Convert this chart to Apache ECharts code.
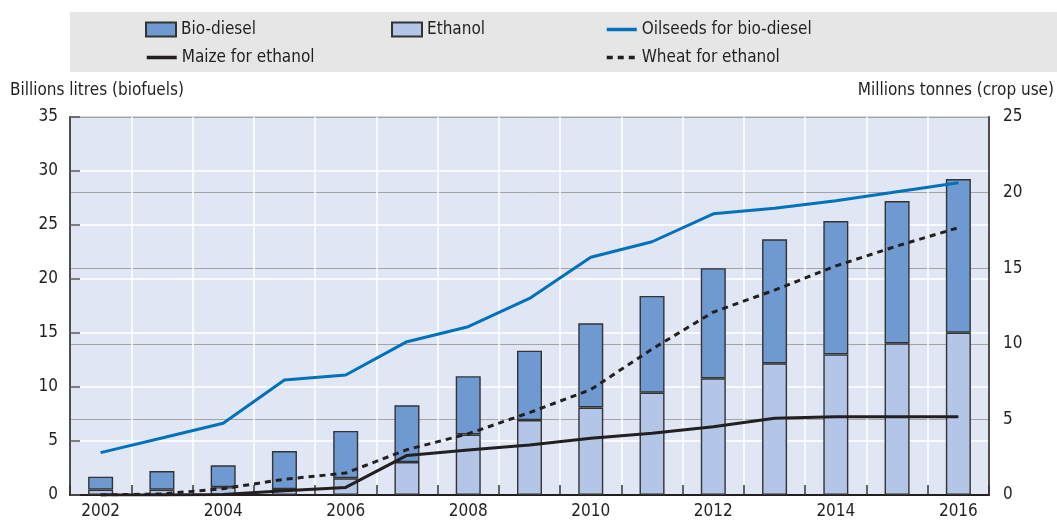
<!DOCTYPE html>
<html>
<head>
<meta charset="utf-8">
<script src="https://cdn.jsdelivr.net/npm/echarts@6/dist/echarts.min.js"></script>
<style>
  html, body { margin: 0; padding: 0; background: #fff; }
  #chart { width: 1057px; height: 521px; }
</style>
</head>
<body>
<div id="chart"></div>
<script>
// categories
var years = ['2002','2003','2004','2005','2006','2007','2008','2009','2010','2011','2012','2013','2014','2015','2016'];
// billions litres (left axis)
var ethanol   = [0.5, 0.5, 0.72, 0.55, 1.55, 3.05, 5.6, 6.94, 8.1, 9.47, 10.8, 12.19, 13.02, 14.04, 15.03];
var biodiesel = [1.2, 1.72, 2.03, 3.52, 4.38, 5.25, 5.4, 6.42, 7.8, 8.96, 10.2, 11.48, 12.35, 13.18, 14.23];
// millions tonnes (right axis)
var oilseeds = [2.8, 3.77, 4.74, 7.6, 7.94, 10.14, 11.13, 13.0, 15.72, 16.75, 18.6, 18.96, 19.46, 20.06, 20.65];
var maize    = [0, 0, 0.03, 0.28, 0.5, 2.62, 2.98, 3.31, 3.75, 4.08, 4.52, 5.07, 5.18, 5.18, 5.18];
var wheat    = [0, 0.07, 0.42, 1.04, 1.45, 3.0, 4.05, 5.45, 6.97, 9.65, 12.1, 13.55, 15.15, 16.47, 17.68];

var FONT = '"Liberation Sans Narrow", "DejaVu Sans Condensed", "Liberation Sans", sans-serif';
var textStyle = { fontFamily: FONT, fontSize: 17, color: '#231f20' };

var chart = echarts.init(document.getElementById('chart'));

function legendItem(name, left, top, icon) {
  var item = { name: name };
  if (icon) item.icon = icon;
  var lg = {
    data: [item],
    left: left,
    top: top,
    itemWidth: 30,
    itemHeight: 14,
    itemGap: 0,
    selectedMode: false,
    textStyle: textStyle
  };
  if (!icon) {
    // line series: show the stroke only, hide the circle symbol
    lg.itemStyle = { opacity: 0 };
    lg.lineStyle = { width: 3.5 };
  }
  return lg;
}

chart.setOption({
  animation: false,
  graphic: [{
    type: 'rect',
    left: 70, top: 12,
    shape: { width: 987, height: 60 },
    style: { fill: '#e6e6e6' },
    z: -10
  }],
  legend: [
    legendItem('Bio-diesel', 140, 16, 'rect'),
    legendItem('Ethanol', 386, 16, 'rect'),
    legendItem('Oilseeds for bio-diesel', 600, 16),
    legendItem('Maize for ethanol', 140, 44),
    legendItem('Wheat for ethanol', 600, 44)
  ],
  grid: {
    left: 70, right: 66, top: 117, bottom: 26,
    show: true,
    backgroundColor: '#e0e6f4',
    borderColor: '#333',
    borderWidth: 1.5
  },
  xAxis: {
    type: 'category',
    data: years,
    boundaryGap: true,
    axisLine: { lineStyle: { color: '#231f20', width: 2 } },
    axisTick: { show: true, inside: true, length: 10, interval: 0, lineStyle: { color: '#333', width: 1.5 } },
    splitLine: { show: true, interval: 0, lineStyle: { color: '#ffffff', width: 1.5 } },
    axisLabel: {
      interval: function (i) { return i % 2 === 0; },
      fontFamily: FONT, fontSize: 17, color: '#231f20', margin: 8
    }
  },
  yAxis: [{
    type: 'value',
    min: 0, max: 35, interval: 5,
    name: 'Billions litres (biofuels)',
    nameLocation: 'end',
    nameGap: 18,
    nameTextStyle: { fontFamily: FONT, fontSize: 17, color: '#231f20', align: 'left', padding: [0, 0, 0, -60] },
    axisLine: { show: true, lineStyle: { color: '#231f20', width: 1.5 } },
    axisTick: { show: true, inside: true, length: 10, lineStyle: { color: '#555', width: 1.5 } },
    splitLine: { show: true, lineStyle: { color: '#ffffff', width: 1.5 } },
    axisLabel: { fontFamily: FONT, fontSize: 17, color: '#231f20', margin: 12 }
  }, {
    type: 'value',
    min: 0, max: 25, interval: 5,
    name: 'Millions tonnes (crop use)',
    nameLocation: 'end',
    nameGap: 18,
    nameTextStyle: { fontFamily: FONT, fontSize: 17, color: '#231f20', align: 'right', padding: [0, -65, 0, 0] },
    axisLine: { show: true, lineStyle: { color: '#231f20', width: 1.5 } },
    axisTick: { show: false },
    splitLine: { show: true, lineStyle: { color: '#a3a3a3', width: 1 } },
    axisLabel: { fontFamily: FONT, fontSize: 17, color: '#231f20', margin: 14 }
  }],
  series: [
    {
      name: 'Ethanol',
      type: 'bar',
      stack: 'fuel',
      data: ethanol,
      barWidth: 25,
      itemStyle: { color: '#b3c6e7', borderColor: '#333', borderWidth: 1.4 }
    },
    {
      name: 'Bio-diesel',
      type: 'bar',
      stack: 'fuel',
      data: biodiesel,
      barWidth: 25,
      itemStyle: { color: '#6f9ad1', borderColor: '#333', borderWidth: 1.4 }
    },
    {
      name: 'Oilseeds for bio-diesel',
      type: 'line',
      yAxisIndex: 1,
      data: oilseeds,
      symbol: 'none',
      lineStyle: { color: '#0072bc', width: 3 },
      itemStyle: { color: '#0072bc' }
    },
    {
      name: 'Maize for ethanol',
      type: 'line',
      yAxisIndex: 1,
      data: maize,
      symbol: 'none',
      lineStyle: { color: '#231f20', width: 3 },
      itemStyle: { color: '#231f20' }
    },
    {
      name: 'Wheat for ethanol',
      type: 'line',
      yAxisIndex: 1,
      data: wheat,
      symbol: 'none',
      lineStyle: { color: '#231f20', width: 3, type: [6, 5] },
      itemStyle: { color: '#231f20' }
    }
  ]
});
</script>
</body>
</html>
